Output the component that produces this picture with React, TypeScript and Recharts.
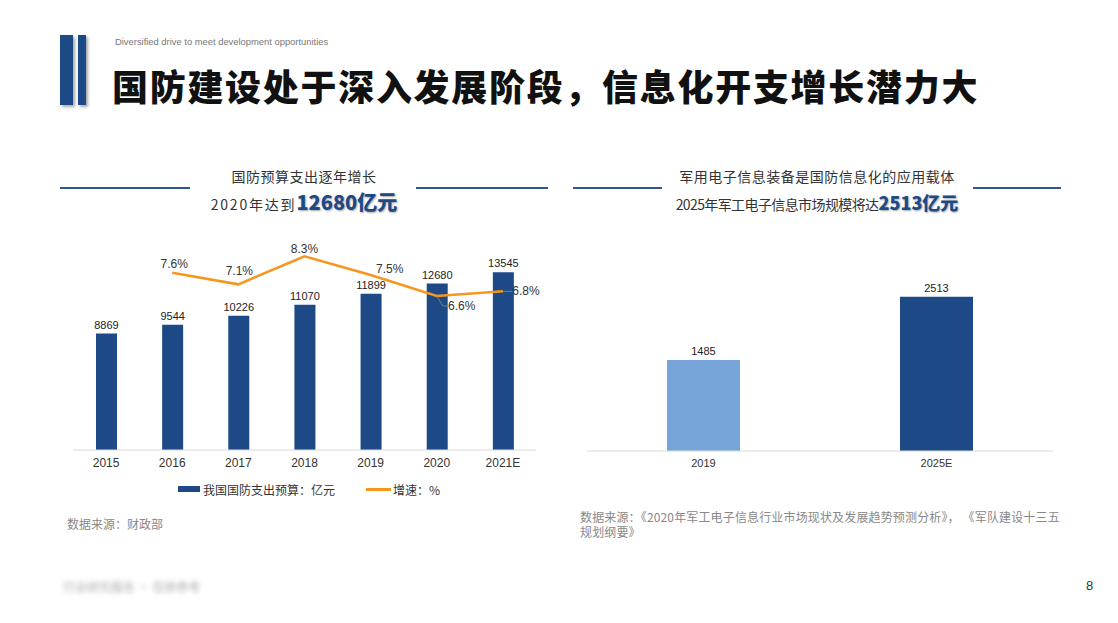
import React from "react"
import { ComposedChart, BarChart, Bar, Line, XAxis, YAxis, LabelList, Cell } from "recharts"

const years = ["2015", "2016", "2017", "2018", "2019", "2020", "2021E"]
const budget = [8869, 9544, 10226, 11070, 11899, 12680, 13545]
const growth = [null, 7.6, 7.1, 8.3, 7.5, 6.6, 6.8]

const marketYears = ["2019", "2025E"]
const marketSize = [1485, 2513]

const budgetData = years.map((year, i) => ({ year, budget: budget[i], growth: growth[i] }))
const marketData = marketYears.map((year, i) => ({ year, size: marketSize[i] }))

const BLUE = "#1D4A87"
const LIGHT_BLUE = "#76A5D9"
const ORANGE = "#F7961E"
const FONT = "'Liberation Sans', 'Noto Sans CJK SC', sans-serif"
const CJK = "'Noto Sans CJK SC', 'Liberation Sans', sans-serif"

// label offsets for the growth line, by index
const growthLabelOffsets: Record<number, { dx: number; dy: number; leader?: boolean }> = {
  1: { dx: 2, dy: -9 },
  2: { dx: 1, dy: -13 },
  3: { dx: 0, dy: -7 },
  4: { dx: 19, dy: -6 },
  5: { dx: 25, dy: 10, leader: true },
  6: { dx: 23, dy: 0, leader: true },
}

const GrowthLabel = (props: any) => {
  const { x, y, value, index } = props
  if (value == null) return null
  const off = growthLabelOffsets[index] || { dx: 0, dy: -8 }
  const tx = x + off.dx
  const ty = y + off.dy
  return (
    <g>
      {off.leader && (
        <polyline
          points={off.dy > 0 ? `${x},${y} ${x + 6},${ty} ${tx - 13},${ty}` : `${x},${y} ${tx - 13},${ty}`}
          fill="none"
          stroke="#8c8c8c"
          strokeWidth={0.8}
        />
      )}
      <text x={tx} y={ty} textAnchor="middle" dominantBaseline="central" fontSize={12} fill="#333" fontFamily={FONT}>
        {`${value.toFixed(1)}%`}
      </text>
    </g>
  )
}

const Heading = ({ left, width, lineLeft, lineRight, title, prefix, prefixSpacing, highlight, highlightSize }: any) => (
  <div style={{ position: "absolute", left, top: 164, width, fontFamily: CJK, color: "#333" }}>
    <div style={{ position: "absolute", left: 0, top: 23, width: lineLeft, height: 2, background: "#2E5597" }} />
    <div style={{ position: "absolute", right: 0, top: 23, width: lineRight, height: 2, background: "#2E5597" }} />
    <div style={{ textAlign: "center", fontSize: 14, lineHeight: "24px", letterSpacing: 0.5 }}>{title}</div>
    <div style={{ textAlign: "center", fontSize: 14, lineHeight: "26px", marginTop: 1 }}>
      <span style={{ letterSpacing: prefixSpacing }}>{prefix}</span>
      <span
        style={{
          fontSize: highlightSize,
          fontWeight: 900,
          color: BLUE,
          textShadow: "1px 1px 2px rgba(0,0,0,0.35)",
          fontFamily: CJK,
        }}
      >
        {highlight}
      </span>
    </div>
  </div>
)

export default function App() {
  return (
    <div style={{ position: "absolute", left: 0, top: 0, width: 1118, height: 623, background: "#fff", overflow: "hidden" }}>
      {/* header decoration */}
      <div style={{ position: "absolute", left: 60, top: 35, width: 13, height: 70, background: BLUE, boxShadow: "2px 2px 3px rgba(0,0,0,0.35)" }} />
      <div style={{ position: "absolute", left: 78, top: 35, width: 8, height: 70, background: BLUE, boxShadow: "2px 2px 3px rgba(0,0,0,0.35)" }} />
      <div style={{ position: "absolute", left: 115, top: 36, fontSize: 9.4, color: "#777", fontFamily: FONT }}>
        Diversified drive to meet development opportunities
      </div>
      <div
        style={{
          position: "absolute",
          left: 112,
          top: 60,
          fontSize: 36,
          fontWeight: 900,
          color: "#111",
          fontFamily: CJK,
          letterSpacing: 1.7,
          lineHeight: "50px",
          whiteSpace: "nowrap",
        }}
      >
        国防建设处于深入发展阶段，信息化开支增长潜力大
      </div>

      <Heading
        left={60}
        width={488}
        lineLeft={130}
        lineRight={132}
        title="国防预算支出逐年增长"
        prefix="2020年达到"
        prefixSpacing={1.8}
        highlight="12680亿元"
        highlightSize={20}
      />
      <Heading
        left={573}
        width={488}
        lineLeft={89}
        lineRight={88}
        title="军用电子信息装备是国防信息化的应用载体"
        prefix="2025年军工电子信息市场规模将达"
        prefixSpacing={-0.6}
        highlight="2513亿元"
        highlightSize={18}
      />

      {/* left chart */}
      <div style={{ position: "absolute", left: 60, top: 220 }}>
        <ComposedChart width={490} height={260} data={budgetData} margin={{ top: 20, right: 14, left: 13, bottom: 0 }}>
          <XAxis
            dataKey="year"
            tickLine={false}
            axisLine={{ stroke: "#d9d9d9" }}
            tick={{ fontSize: 12, fill: "#333", fontFamily: FONT }}
          />
          <YAxis yAxisId="left" hide domain={[0, 16000]} />
          <YAxis yAxisId="right" hide orientation="right" domain={[0, 9]} />
          <Bar yAxisId="left" dataKey="budget" fill={BLUE} barSize={21} isAnimationActive={false}>
            <LabelList dataKey="budget" position="top" fontSize={11} fill="#222" fontFamily={FONT} />
          </Bar>
          <Line
            yAxisId="right"
            dataKey="growth"
            type="linear"
            stroke={ORANGE}
            strokeWidth={2.5}
            dot={false}
            connectNulls={false}
            isAnimationActive={false}
          >
            <LabelList dataKey="growth" content={GrowthLabel} />
          </Line>
        </ComposedChart>
      </div>

      {/* left legend */}
      <div style={{ position: "absolute", left: 178, top: 480, fontFamily: CJK, fontSize: 12, color: "#333", display: "flex", alignItems: "center", height: 18 }}>
        <span style={{ display: "inline-block", width: 22, height: 6, background: BLUE, marginRight: 3 }} />
        <span>我国国防支出预算：亿元</span>
        <span style={{ display: "inline-block", width: 25, height: 3, background: ORANGE, marginLeft: 31, marginRight: 2 }} />
        <span>增速：%</span>
      </div>

      <div style={{ position: "absolute", left: 67, top: 515, fontFamily: CJK, fontSize: 12, color: "#888" }}>数据来源：财政部</div>

      {/* right chart */}
      <div style={{ position: "absolute", left: 575, top: 247 }}>
        <BarChart width={490} height={234} data={marketData} margin={{ top: 20, right: 12, left: 12, bottom: 0 }}>
          <XAxis
            dataKey="year"
            tickLine={false}
            axisLine={{ stroke: "#d9d9d9" }}
            tick={{ fontSize: 11, fill: "#333", fontFamily: FONT }}
          />
          <YAxis hide domain={[0, 3000]} />
          <Bar dataKey="size" barSize={73} isAnimationActive={false}>
            {marketData.map((d, i) => (
              <Cell key={d.year} fill={i === 0 ? LIGHT_BLUE : BLUE} />
            ))}
            <LabelList dataKey="size" position="top" fontSize={11} fill="#222" fontFamily={FONT} />
          </Bar>
        </BarChart>
      </div>

      <div style={{ position: "absolute", left: 580, top: 509, width: 490, fontFamily: CJK, fontSize: 12, lineHeight: "15px", color: "#888", letterSpacing: 0.15 }}>
        数据来源：《2020年军工电子信息行业市场现状及发展趋势预测分析》， 《军队建设十三五
        <br />
        规划纲要》
      </div>

      {/* blurred footer */}
      <div style={{ position: "absolute", left: 63, top: 578, fontFamily: CJK, fontSize: 12, color: "#aaa", filter: "blur(2.5px)" }}>
        行业研究报告 · 仅供参考
      </div>
      <div style={{ position: "absolute", left: 1086, top: 578, fontFamily: FONT, fontSize: 13, color: "#333" }}>8</div>
    </div>
  )
}
